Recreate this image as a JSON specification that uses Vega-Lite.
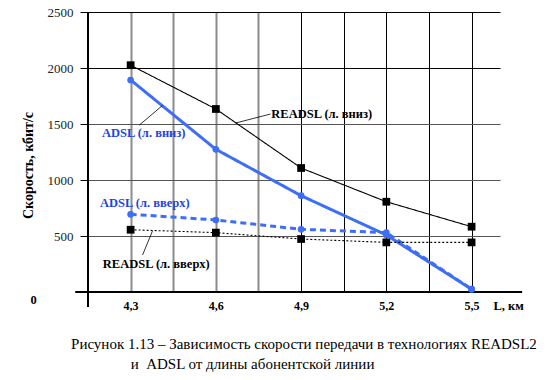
{
  "$schema": "https://vega.github.io/schema/vega-lite/v6.json",
  "autosize": "none",
  "width": 412,
  "height": 280,
  "padding": {"left": 88, "top": 12, "right": 48, "bottom": 88},
  "background": "white",
  "config": {"view": {"stroke": null}, "font": "Liberation Serif"},
  "datasets": {
    "series": [
      {"L": 4.3, "v": 2025, "s": "READSL (л. вниз)"},
      {"L": 4.6, "v": 1634, "s": "READSL (л. вниз)"},
      {"L": 4.9, "v": 1107, "s": "READSL (л. вниз)"},
      {"L": 5.2, "v": 806, "s": "READSL (л. вниз)"},
      {"L": 5.5, "v": 583, "s": "READSL (л. вниз)"},
      {"L": 4.3, "v": 1893, "s": "ADSL (л. вниз)"},
      {"L": 4.6, "v": 1274, "s": "ADSL (л. вниз)"},
      {"L": 4.9, "v": 860, "s": "ADSL (л. вниз)"},
      {"L": 5.2, "v": 509, "s": "ADSL (л. вниз)"},
      {"L": 5.5, "v": 25, "s": "ADSL (л. вниз)"},
      {"L": 4.3, "v": 694, "s": "ADSL (л. вверх)"},
      {"L": 4.6, "v": 643, "s": "ADSL (л. вверх)"},
      {"L": 4.9, "v": 560, "s": "ADSL (л. вверх)"},
      {"L": 5.2, "v": 530, "s": "ADSL (л. вверх)"},
      {"L": 5.5, "v": 25, "s": "ADSL (л. вверх)"},
      {"L": 4.3, "v": 556, "s": "READSL (л. вверх)"},
      {"L": 4.6, "v": 530, "s": "READSL (л. вверх)"},
      {"L": 4.9, "v": 473, "s": "READSL (л. вверх)"},
      {"L": 5.2, "v": 443, "s": "READSL (л. вверх)"},
      {"L": 5.5, "v": 443, "s": "READSL (л. вверх)"}
    ],
    "notes": [
      {"x": 4.795, "y": 1589, "text": "READSL (л. вниз)", "k": "READSL"},
      {"x": 4.199, "y": 1420, "text": "ADSL (л. вниз)", "k": "ADSL"},
      {"x": 4.192, "y": 795, "text": "ADSL (л. вверх)", "k": "ADSL"},
      {"x": 4.202, "y": 250, "text": "READSL (л. вверх)", "k": "READSL"},
      {"x": 3.948, "y": -71, "text": "0", "k": "READSL"},
      {"x": 5.577, "y": -125, "text": "L, км", "k": "READSL"}
    ],
    "caption": [
      {"x": 4.910, "y": -464, "text": "Рисунок 1.13 – Зависимость скорости передачи в технологиях READSL2"},
      {"x": 4.729, "y": -643, "text": "и\u00a0 ADSL от длины абонентской линии"}
    ],
    "leaders": [
      {"x": 4.792, "y": 1589, "x2": 4.670, "y2": 1509},
      {"x": 4.331, "y": 1491, "x2": 4.412, "y2": 1665},
      {"x": 4.342, "y": 330, "x2": 4.377, "y2": 545}
    ],
    "axislines": [
      {"x": 4.105, "x2": 5.678, "y": 0, "y2": 0},
      {"x": 4.15, "x2": 4.15, "y": -134, "y2": 2500}
    ]
  },
  "layer": [
    {
      "data": {"name": "series"},
      "mark": {"type": "line"},
      "encoding": {
        "x": {
          "field": "L", "type": "quantitative",
          "scale": {"domain": [4.15, 5.6], "nice": false, "zero": false},
          "axis": {
            "title": null,
            "values": [4.3, 4.45, 4.6, 4.75, 4.9, 5.05, 5.2, 5.35, 5.5],
            "grid": true,
            "gridColor": {"condition": {"test": "datum.value < 4.85", "value": "#8c8c8c"}, "value": "black"},
            "gridWidth": {"condition": {"test": "datum.value < 4.85", "value": 2}, "value": 1},
            "gridOpacity": 1,
            "domain": false,
            "ticks": false,
            "labelExpr": "abs(datum.value*10 - round(datum.value*10)) < 0.01 ? replace(format(datum.value, '.1f'), '.', ',') : ''",
            "labelFont": "Liberation Serif",
            "labelFontSize": 12,
            "labelFontWeight": "bold",
            "labelColor": "black",
            "labelPadding": 8
          }
        },
        "y": {
          "field": "v", "type": "quantitative",
          "scale": {"domain": [0, 2500], "nice": false},
          "axis": {
            "title": "Скорость, кбит/с",
            "titleFont": "Liberation Serif",
            "titleFontSize": 14,
            "titleFontWeight": "bold",
            "titleColor": "black",
            "titlePadding": 12,
            "titleY": 153,
            "values": [500, 1000, 1500, 2000, 2500],
            "format": "d",
            "grid": true,
            "gridColor": {"condition": {"test": "datum.value >= 2000", "value": "black"}, "value": "#555"},
            "gridOpacity": 1,
            "domain": false,
            "ticks": true,
            "tickSize": 8,
            "tickColor": "black",
            "labelFont": "Liberation Serif",
            "labelFontSize": 13,
            "labelColor": "#222",
            "labelPadding": 7
          }
        },
        "detail": {"field": "s"},
        "color": {
          "field": "s", "type": "nominal", "legend": null,
          "scale": {
            "domain": ["READSL (л. вниз)", "ADSL (л. вниз)", "ADSL (л. вверх)", "READSL (л. вверх)"],
            "range": ["black", "#3d6ef5", "#3d6ef5", "black"]
          }
        },
        "strokeWidth": {
          "condition": {"test": "indexof(datum.s, 'ADSL') == 0", "value": 3},
          "value": 1.1
        },
        "strokeDash": {
          "field": "s", "type": "nominal", "legend": null,
          "scale": {
            "domain": ["READSL (л. вниз)", "ADSL (л. вниз)", "ADSL (л. вверх)", "READSL (л. вверх)"],
            "range": [[1, 0], [1, 0], [6, 4], [2, 2]]
          }
        }
      }
    },
    {
      "data": {"name": "axislines"},
      "mark": {"type": "rule", "color": "black", "strokeWidth": 2},
      "encoding": {
        "x": {"field": "x", "type": "quantitative"},
        "x2": {"field": "x2"},
        "y": {"field": "y", "type": "quantitative"},
        "y2": {"field": "y2"}
      }
    },
    {
      "data": {"name": "leaders"},
      "mark": {"type": "rule", "color": "black", "strokeWidth": 0.8},
      "encoding": {
        "x": {"field": "x", "type": "quantitative"},
        "x2": {"field": "x2"},
        "y": {"field": "y", "type": "quantitative"},
        "y2": {"field": "y2"}
      }
    },
    {
      "data": {"name": "series"},
      "mark": {"type": "point", "filled": true, "opacity": 1},
      "encoding": {
        "x": {"field": "L", "type": "quantitative"},
        "y": {"field": "v", "type": "quantitative"},
        "shape": {
          "field": "s", "type": "nominal", "legend": null,
          "scale": {
            "domain": ["READSL (л. вниз)", "ADSL (л. вниз)", "ADSL (л. вверх)", "READSL (л. вверх)"],
            "range": ["square", "circle", "circle", "square"]
          }
        },
        "size": {
          "condition": {"test": "indexof(datum.s, 'ADSL') == 0", "value": 45},
          "value": 60
        },
        "color": {
          "field": "s", "type": "nominal", "legend": null,
          "scale": {
            "domain": ["READSL (л. вниз)", "ADSL (л. вниз)", "ADSL (л. вверх)", "READSL (л. вверх)"],
            "range": ["black", "#3d6ef5", "#3d6ef5", "black"]
          }
        }
      }
    },
    {
      "data": {"name": "notes"},
      "mark": {"type": "text", "align": "left", "baseline": "middle", "font": "Liberation Serif", "fontSize": 12.5, "fontWeight": "bold"},
      "encoding": {
        "x": {"field": "x", "type": "quantitative"},
        "y": {"field": "y", "type": "quantitative"},
        "text": {"field": "text"},
        "color": {
          "field": "k", "type": "nominal", "legend": null,
          "scale": {"domain": ["READSL", "ADSL"], "range": ["black", "#1f44e0"]}
        }
      }
    },
    {
      "data": {"name": "caption"},
      "mark": {"type": "text", "align": "center", "baseline": "middle", "font": "Liberation Serif", "fontSize": 15, "color": "black"},
      "encoding": {
        "x": {"field": "x", "type": "quantitative"},
        "y": {"field": "y", "type": "quantitative"},
        "text": {"field": "text"}
      }
    }
  ],
  "resolve": {"scale": {"color": "independent"}}
}
